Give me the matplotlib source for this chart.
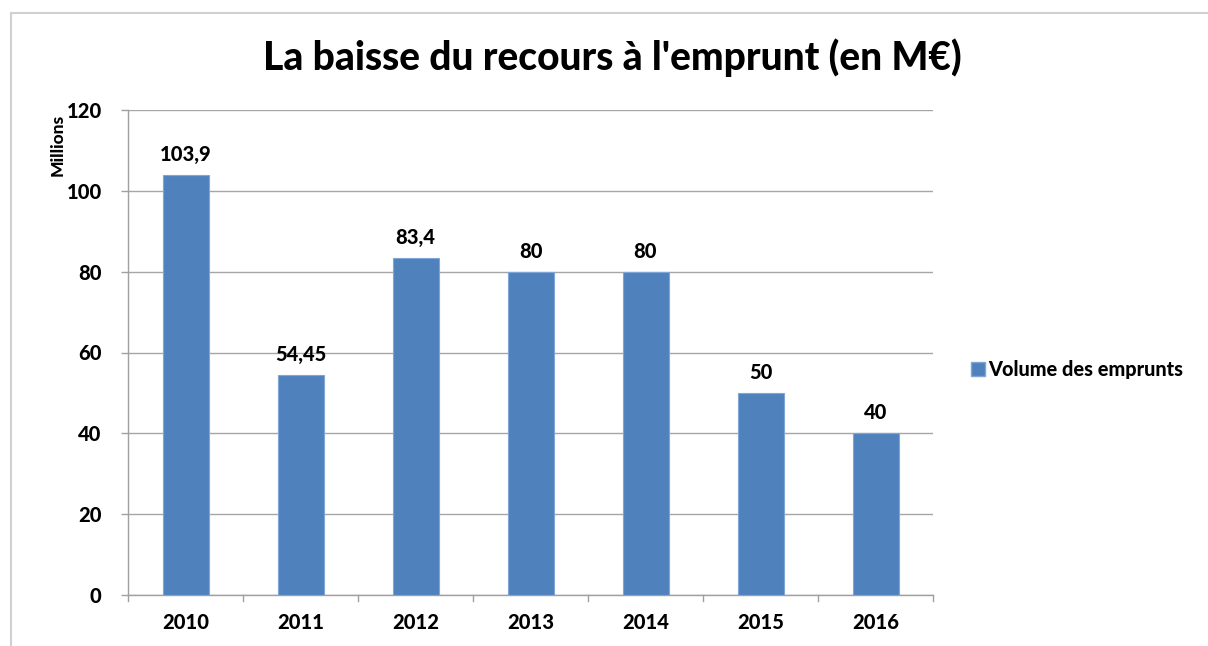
import matplotlib
matplotlib.use("Agg")
import matplotlib.pyplot as plt
from matplotlib.lines import Line2D
from matplotlib.patches import Patch

years = ["2010", "2011", "2012", "2013", "2014", "2015", "2016"]
volumes = [103.9, 54.45, 83.4, 80, 80, 50, 40]
labels = ["103,9", "54,45", "83,4", "80", "80", "50", "40"]
yticks = [0, 20, 40, 60, 80, 100, 120]

W, H = 1208, 646
fig = plt.figure(figsize=(W / 100, H / 100), dpi=100)
plt.rcParams['font.family'] = ['Lato', 'DejaVu Sans']

def fx(px):
    return px / W

def fy(py):
    return 1 - py / H

# chart border (light gray)
fig.add_artist(Line2D([fx(11), fx(1208)], [fy(13), fy(13)], color='#d0d0d0', lw=1.5))
fig.add_artist(Line2D([fx(11), fx(11)], [fy(13), fy(646)], color='#d0d0d0', lw=1.5))

ax = fig.add_axes([fx(128), fy(595), (933 - 128) / W, (595 - 110) / H])
bar_color = '#4F81BD'
x = list(range(len(years)))
ax.bar(x, volumes, width=0.4, color=bar_color, edgecolor='#7FA6D6', linewidth=0.8, zorder=3,
       label="Volume des emprunts")
ax.set_xlim(-0.5, len(years) - 0.5)
ax.set_ylim(0, 120)
ax.set_yticks(yticks)
ax.set_yticklabels([str(v) for v in yticks], fontsize=14.5, fontweight='black')
ax.set_xticks(x)
ax.set_xticklabels(years, fontsize=14.5, fontweight='black')
ax.tick_params(axis='x', length=0, pad=13)
ax.tick_params(axis='y', length=5, color='#a0a0a0', pad=14, width=1)
ax.grid(axis='y', color='#a6a6a6', lw=1, zorder=0)
for s in ['top', 'right']:
    ax.spines[s].set_visible(False)
for s in ['left', 'bottom']:
    ax.spines[s].set_color('#a0a0a0')
    ax.spines[s].set_linewidth(1)

# category boundary ticks below the x-axis
for b in range(len(years) + 1):
    ax.plot([b - 0.5, b - 0.5], [0, -1.6], color='#a0a0a0', lw=1, clip_on=False, zorder=4)

for xi, v, lab in zip(x, volumes, labels):
    ax.annotate(lab, (xi, v), xytext=(0, 8), textcoords='offset points', ha='center', va='bottom',
                fontsize=14.5, fontweight='black')

ax.set_ylabel("Millions", fontsize=12.5, fontweight='black')
ax.yaxis.set_label_coords(-0.077, 0.928)

fig.text(fx(612), fy(58), "La baisse du recours à l'emprunt (en M€)", ha='center', va='center',
         fontsize=28, fontweight='black')

fig.legend(handles=[Patch(facecolor=bar_color, edgecolor='#7FA6D6')], labels=["Volume des emprunts"],
           loc='center left', bbox_to_anchor=(fx(953), fy(369)), frameon=False,
           prop={'size': 14.3, 'weight': 'black'}, handlelength=0.7, handleheight=0.7, handletextpad=0.15)

fig.savefig("out.png", dpi=100)
